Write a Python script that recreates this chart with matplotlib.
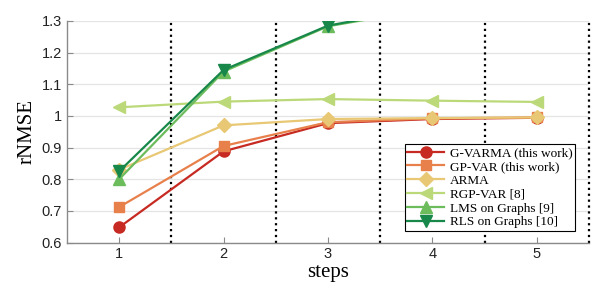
import matplotlib.pyplot as plt

# values
steps = [1, 2, 3, 4, 5]
gvarma = [0.648, 0.888, 0.977, 0.990, 0.994]
gpvar = [0.712, 0.905, 0.980, 0.992, 0.995]
arma = [0.830, 0.970, 0.990, 0.993, 0.995]
rgpvar = [1.027, 1.045, 1.053, 1.048, 1.044]
lms = [0.800, 1.140, 1.283, 1.340, 1.380]
rls = [0.825, 1.145, 1.285, 1.345, 1.385]

labels = ['G-VARMA (this work)', 'GP-VAR (this work)', 'ARMA',
          'RGP-VAR [8]', 'LMS on Graphs [9]', 'RLS on Graphs [10]']
colors = ['#c62a22', '#e8804c', '#e8c874', '#bcd97a', '#6cbc5c', '#17884a']
markers = ['o', 's', 'D', '<', '^', 'v']
sizes = [8, 7.5, 7.5, 9, 9, 9]
series = [gvarma, gpvar, arma, rgpvar, lms, rls]

fig = plt.figure(figsize=(5.98, 2.82), dpi=100)
ax = fig.add_axes([0.112, 0.140, 0.873, 0.786])

for y in [0.6, 0.7, 0.8, 0.9, 1.0, 1.1, 1.2, 1.3]:
    ax.axhline(y, color='#e4e4e4', linewidth=0.9, zorder=0)

for xv in [1.5, 2.5, 3.5, 4.5, 5.5]:
    ax.plot([xv, xv], [0.6, 1.3], color='black', linestyle=':', linewidth=1.6,
            zorder=1, clip_on=False)

for vals, lab, c, m, ms in zip(series, labels, colors, markers, sizes):
    ax.plot(steps, vals, color=c, marker=m, markersize=ms, linewidth=1.6,
            markeredgecolor=c, label=lab, zorder=3)

ax.set_xlim(0.5, 5.5)
ax.set_ylim(0.6, 1.3)
ax.set_xticks(steps)
ax.set_yticks([0.6, 0.7, 0.8, 0.9, 1.0, 1.1, 1.2, 1.3])
ax.set_yticklabels(['0.6', '0.7', '0.8', '0.9', '1', '1.1', '1.2', '1.3'])

for s in ['top', 'right']:
    ax.spines[s].set_visible(False)
for s in ['left', 'bottom']:
    ax.spines[s].set_color('#8a8a8a')
    ax.spines[s].set_linewidth(1.0)

ax.tick_params(direction='in', colors='#8a8a8a', length=4, labelsize=10.5,
               labelcolor='#222222')
for t in ax.get_xticklabels() + ax.get_yticklabels():
    t.set_family('Liberation Sans')

ax.set_xlabel('steps', family='Liberation Serif', fontsize=15, labelpad=1)
ax.set_ylabel('rNMSE', family='Liberation Serif', fontsize=15, labelpad=4)

leg = ax.legend(loc='lower right', bbox_to_anchor=(0.973, 0.052),
                prop={'family': 'Liberation Serif', 'size': 9.5},
                fancybox=False, edgecolor='black', framealpha=1,
                handlelength=2.8, borderpad=0.2, labelspacing=0.12,
                handletextpad=0.4, borderaxespad=0)
leg.get_frame().set_linewidth(0.8)
leg.set_zorder(5)

fig.savefig('out.png', dpi=100)
